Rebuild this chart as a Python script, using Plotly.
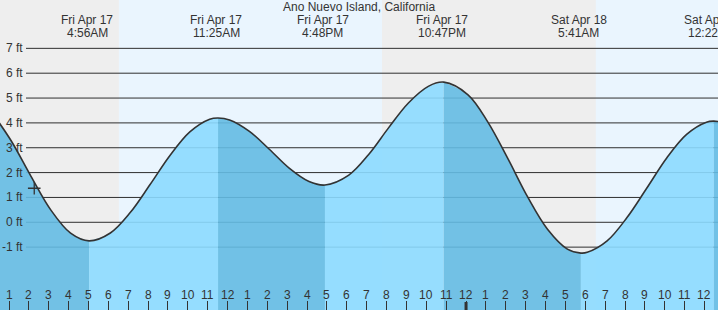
import plotly.graph_objects as go

# ---- data (hours since midnight Fri Apr 17, heights in ft) ----
curve_hours = [0.1, 1.1, 2.1, 3.1, 4.1, 5.03, 6.1, 7.1, 8.1, 9.1, 10.1, 11.1, 11.52, 12.1, 13.1,
               14.1, 15.1, 16.1, 16.9, 18.1, 19.1, 20.1, 21.1, 22.1, 22.88, 24.1, 25.1, 26.1,
               27.1, 28.1, 29.1, 29.78, 30.1, 31.1, 32.1, 33.1, 34.1, 35.1, 36.1, 36.47, 37.1]
curve_ft = [4.46, 3.29, 1.86, 0.50, -0.44, -0.75, -0.43, 0.39, 1.52, 2.69, 3.64, 4.15, 4.20,
            4.12, 3.66, 2.94, 2.18, 1.64, 1.50, 1.90, 2.73, 3.80, 4.80, 5.47, 5.64, 5.13, 4.03,
            2.57, 1.02, -0.28, -1.08, -1.24, -1.21, -0.75, 0.19, 1.38, 2.59, 3.54, 4.03, 4.07, 3.99]

# curve turning points (where the fill colour switches)
turn_hours = [5.03, 11.52, 16.9, 22.88, 29.78, 36.47]

# tide-time labels (times as printed)
label_hours = [4.933, 11.417, 16.8, 22.783, 29.683, 36.367]
label_date = ["Fri Apr 17", "Fri Apr 17", "Fri Apr 17", "Fri Apr 17", "Sat Apr 18", "Sat Apr 18"]
label_time = ["4:56AM", "11:25AM", "4:48PM", "10:47PM", "5:41AM", "12:22PM"]

sunrise_hours = [6.53, 30.53]
sunset_hours = [19.77]

now_hour = [2.27]
now_ft = [1.37]

y_ticks = [-1, 0, 1, 2, 3, 4, 5, 6, 7]
x_ticks = list(range(1, 37))
x_tick_labels = [str((h - 1) % 12 + 1) for h in x_ticks]
midnight_hour = 24

title = "Ano Nuevo Island, California"

# ---- style ----
W, H = 718, 310
X_RANGE = [0.547, 36.68]
Y_RANGE = [-3.53, 8.946]
FONT = "Liberation Sans, Arial, sans-serif"
TXT = "#333333"
NIGHT = "#eeeeee"
DAY = "#eaf5fe"
LIGHT_FILL = "rgba(140,218,255,0.9)"
DARK_FILL = "rgba(100,187,227,0.9)"

fig = go.Figure()

# fill segments: falling tide dark, rising tide light
bounds = [curve_hours[0]] + turn_hours + [curve_hours[-1]]
for i in range(len(bounds) - 1):
    a, b = bounds[i], bounds[i + 1]
    xs = [h for h in curve_hours if a - 1e-9 <= h <= b + 1e-9]
    ys = [curve_ft[curve_hours.index(h)] for h in xs]
    falling = ys[0] > ys[-1]
    fig.add_trace(go.Scatter(x=[a, b], y=[Y_RANGE[0] - 1] * 2, mode="lines",
                             line=dict(width=0), hoverinfo="skip", showlegend=False))
    fig.add_trace(go.Scatter(x=xs, y=ys, mode="lines", fill="tonexty",
                             fillcolor=DARK_FILL if falling else LIGHT_FILL,
                             line=dict(width=0, shape="spline"), hoverinfo="skip",
                             showlegend=False))

# tide line
fig.add_trace(go.Scatter(x=curve_hours, y=curve_ft, mode="lines",
                         line=dict(color="#333333", width=1.6, shape="spline"),
                         showlegend=False))
# current time marker
fig.add_trace(go.Scatter(x=now_hour, y=now_ft, mode="markers",
                         marker=dict(symbol="cross-thin", size=9,
                                     line=dict(color="#333333", width=1.3)),
                         showlegend=False))

shapes = []
# day shading
day_starts = sunrise_hours
day_ends = sunset_hours + [X_RANGE[1] + 1]
for s, e in zip(day_starts, day_ends):
    shapes.append(dict(type="rect", xref="x", yref="paper", x0=s, x1=e, y0=0, y1=1,
                       fillcolor=DAY, line=dict(width=0), layer="below"))
# gridlines
for v in y_ticks:
    shapes.append(dict(type="line", xref="paper", yref="y", x0=26 / W, x1=1, y0=v, y1=v,
                       line=dict(color="#2f2f2f", width=1), layer="below"))
# midnight tick
shapes.append(dict(type="line", xref="x", yref="paper", x0=midnight_hour, x1=midnight_hour,
                   y0=0, y1=8 / H, line=dict(color="#333333", width=3)))

annotations = []
annotations.append(dict(text=title, xref="paper", yref="paper", x=0.5, y=1 - 7 / H,
                        xanchor="center", yanchor="middle", showarrow=False,
                        font=dict(family=FONT, size=12, color=TXT)))
for h, d, t in zip(label_hours, label_date, label_time):
    annotations.append(dict(text=d, x=h, xref="x", yref="paper", y=1 - 20 / H,
                            xanchor="center", yanchor="middle", showarrow=False,
                            font=dict(family=FONT, size=12, color=TXT)))
    annotations.append(dict(text=t, x=h, xref="x", yref="paper", y=1 - 33 / H,
                            xanchor="center", yanchor="middle", showarrow=False,
                            font=dict(family=FONT, size=12, color=TXT)))
for v in y_ticks:
    annotations.append(dict(text=f"{v} ft", x=25 / W, xref="paper", y=v, yref="y",
                            xanchor="right", yanchor="middle", showarrow=False,
                            font=dict(family=FONT, size=12, color=TXT)))
for h, lab in zip(x_ticks, x_tick_labels):
    annotations.append(dict(text=lab, x=h, xref="x", y=15 / H, yref="paper",
                            xanchor="center", yanchor="middle", showarrow=False,
                            font=dict(family=FONT, size=12, color=TXT)))

fig.update_layout(
    width=W, height=H,
    margin=dict(l=0, r=0, t=0, b=0),
    paper_bgcolor="white", plot_bgcolor=NIGHT,
    shapes=shapes, annotations=annotations,
    xaxis=dict(range=X_RANGE, showgrid=False, zeroline=False, showline=False,
               tickmode="array", tickvals=x_ticks, showticklabels=False,
               ticks="inside", ticklen=9, tickwidth=1, tickcolor="#333333"),
    yaxis=dict(range=Y_RANGE, showgrid=False, zeroline=False, showline=False,
               showticklabels=False, ticks=""),
    showlegend=False,
)

fig.write_html("out.html")
